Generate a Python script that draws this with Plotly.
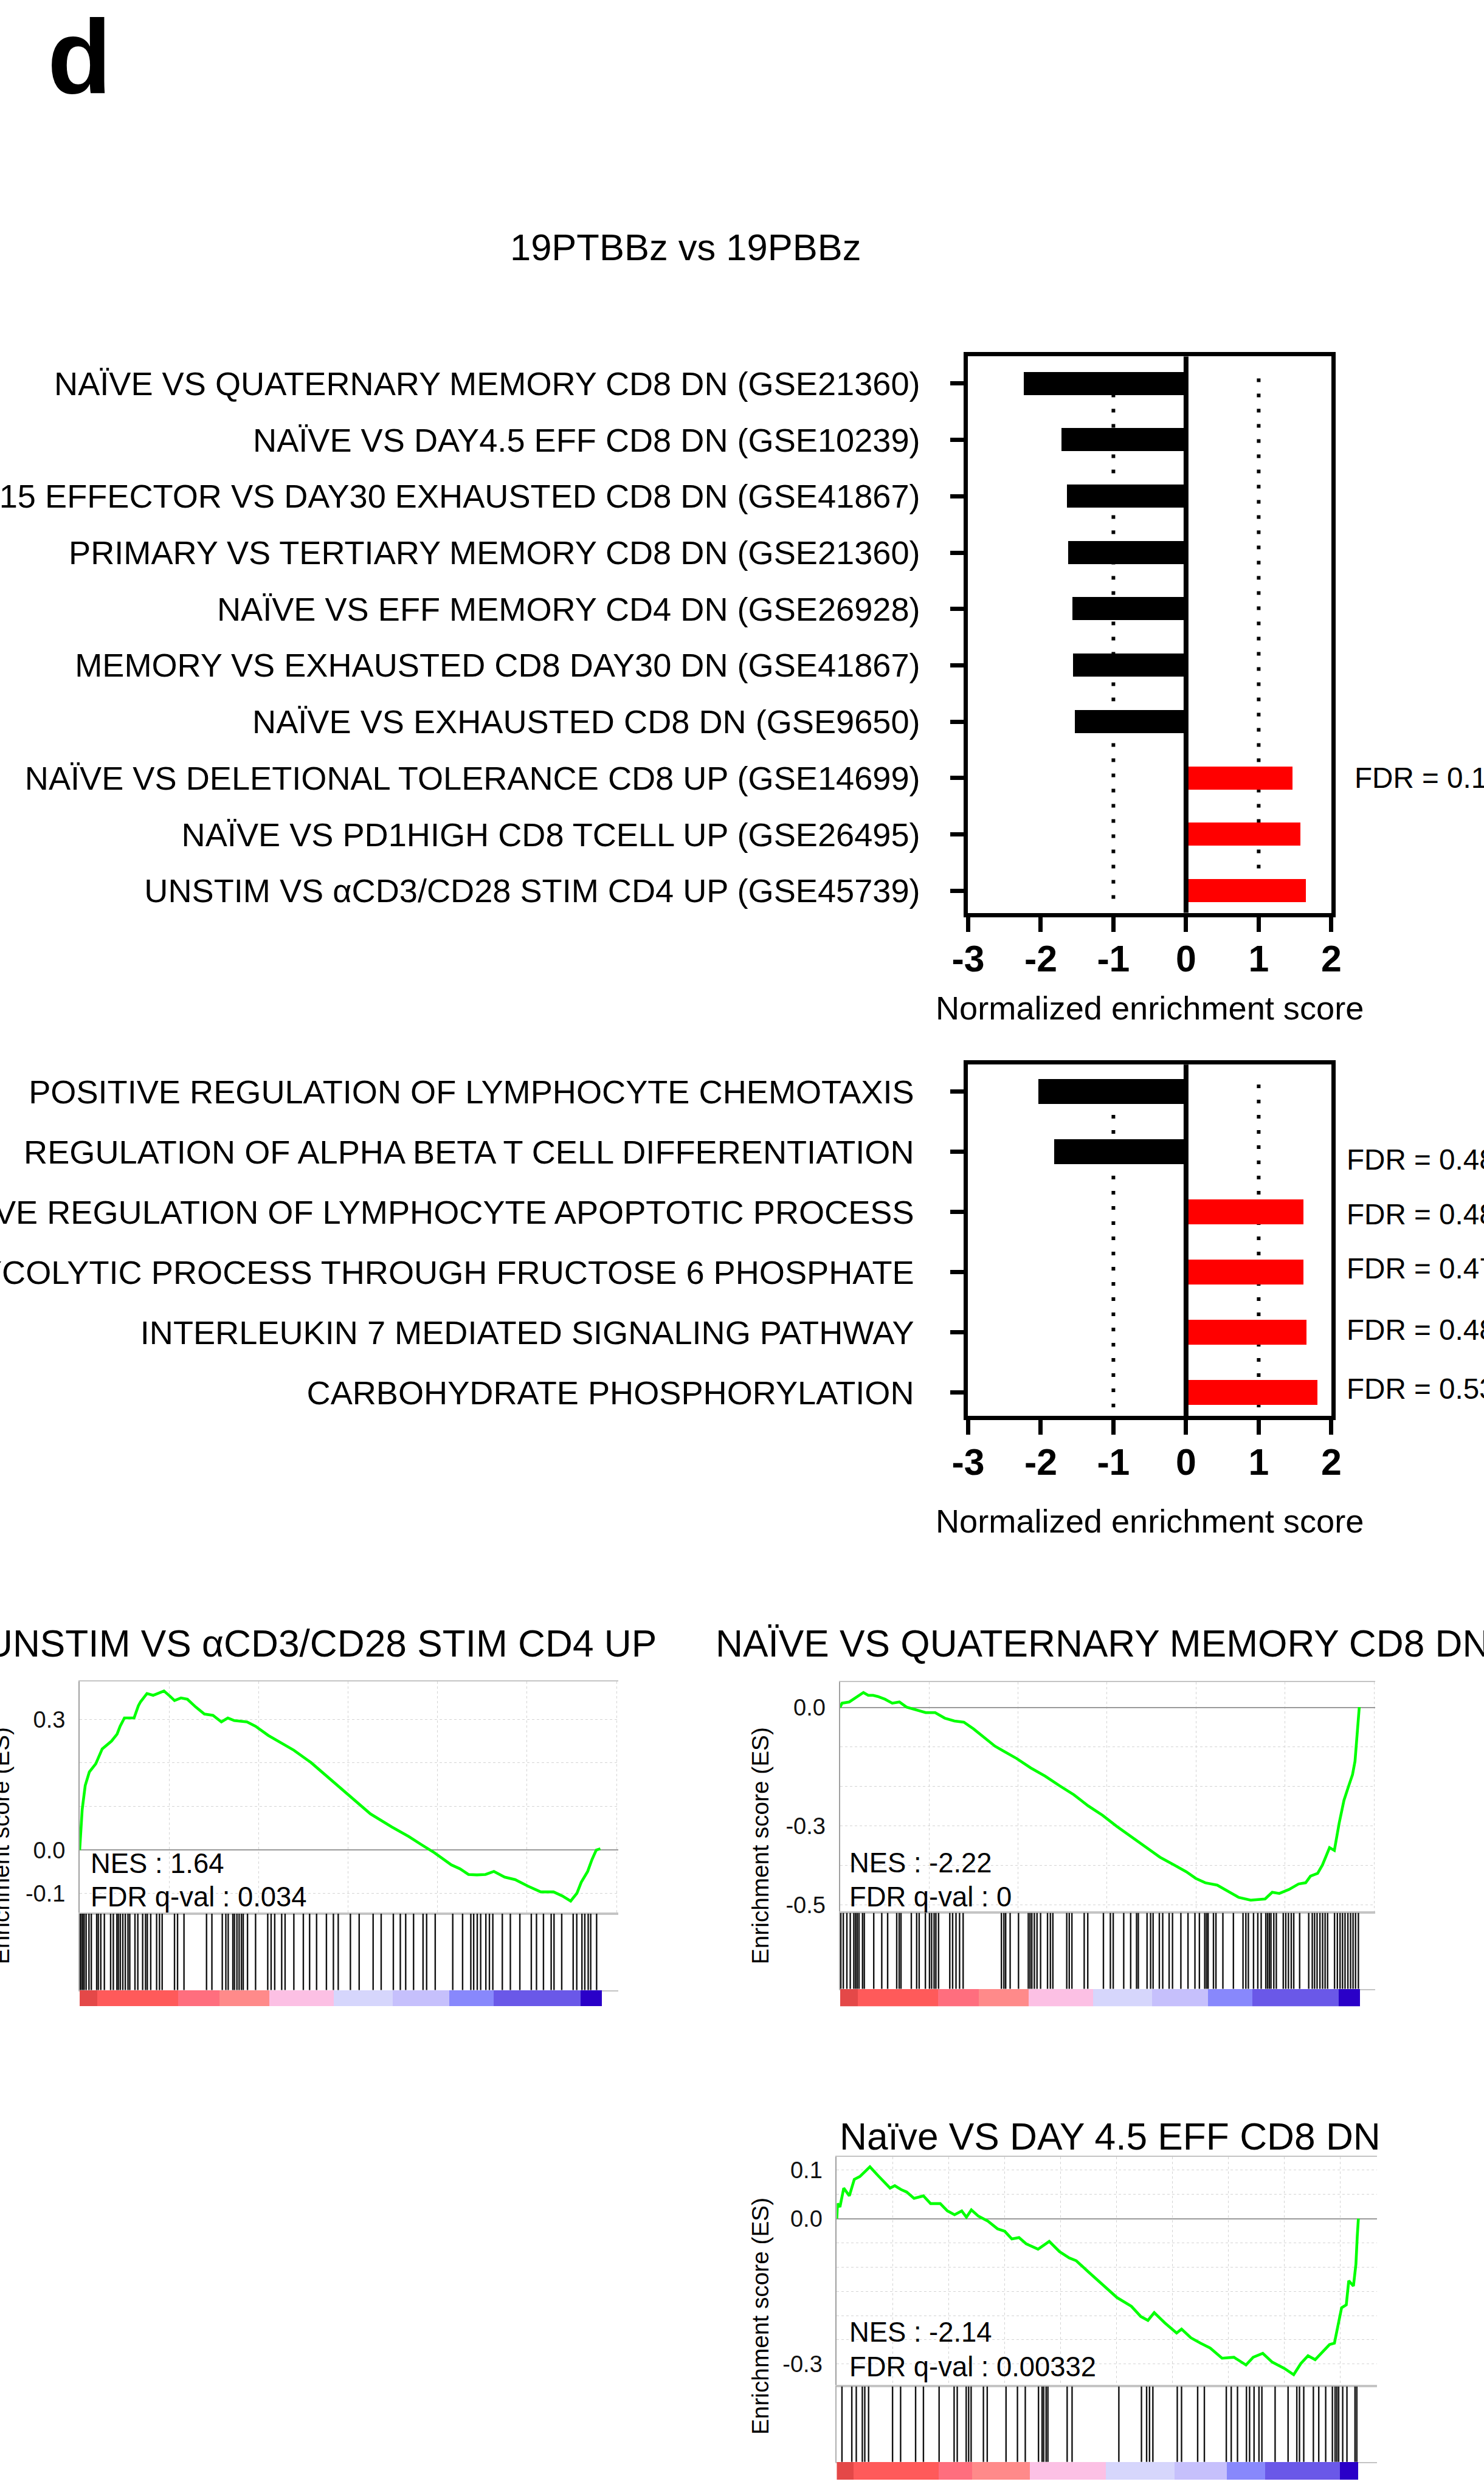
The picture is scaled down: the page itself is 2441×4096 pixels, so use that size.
import plotly.graph_objects as go

# ---------------------------------------------------------------- data
immune_sets = [
    "NAÏVE VS QUATERNARY MEMORY CD8 DN (GSE21360)",
    "NAÏVE VS DAY4.5 EFF CD8 DN (GSE10239)",
    "DAY15 EFFECTOR VS DAY30 EXHAUSTED CD8 DN (GSE41867)",
    "PRIMARY VS TERTIARY MEMORY CD8 DN (GSE21360)",
    "NAÏVE VS EFF MEMORY CD4 DN (GSE26928)",
    "MEMORY VS EXHAUSTED CD8 DAY30 DN (GSE41867)",
    "NAÏVE VS EXHAUSTED CD8 DN (GSE9650)",
    "NAÏVE VS DELETIONAL TOLERANCE CD8 UP (GSE14699)",
    "NAÏVE VS PD1HIGH CD8 TCELL UP (GSE26495)",
    "UNSTIM VS αCD3/CD28 STIM CD4 UP (GSE45739)",
]
immune_nes = [-2.23, -1.71, -1.64, -1.62, -1.56, -1.55, -1.53, 1.47, 1.58, 1.65]
immune_fdr = ["", "", "", "", "", "", "", "FDR = 0.11", "", ""]

go_sets = [
    "POSITIVE REGULATION OF LYMPHOCYTE CHEMOTAXIS",
    "REGULATION OF ALPHA BETA T CELL DIFFERENTIATION",
    "NEGATIVE REGULATION OF LYMPHOCYTE APOPTOTIC PROCESS",
    "GLYCOLYTIC PROCESS THROUGH FRUCTOSE 6 PHOSPHATE",
    "INTERLEUKIN 7 MEDIATED SIGNALING PATHWAY",
    "CARBOHYDRATE PHOSPHORYLATION",
]
go_nes = [-2.03, -1.81, 1.62, 1.62, 1.66, 1.81]
go_fdr = ["", "FDR = 0.48", "FDR = 0.48", "FDR = 0.47", "FDR = 0.48", "FDR = 0.53"]

nes_ticks = [-3, -2, -1, 0, 1, 2]
nes_ticktext = ["-3", "-2", "-1", "0", "1", "2"]

# GSEA running enrichment score (rank in thousands)
es1_rank = [0, 0.14, 0.31, 0.54, 0.90, 1.26, 1.78, 2.09, 2.26, 2.50, 3.04, 3.28, 3.40, 3.76, 4.11,
            4.71, 5.07, 5.30, 5.66, 6.02, 6.49, 6.97, 7.45, 7.92, 8.28, 8.64, 9.35, 9.83, 10.54, 11.25,
            11.97, 12.92, 13.87, 15.06, 16.25, 17.44, 18.39, 19.11, 19.82, 20.77, 21.25, 21.73, 22.20,
            22.68, 23.15, 23.75, 24.34, 25.06, 25.77, 26.48, 26.96, 27.44, 27.79, 28.03, 28.39, 28.63,
            28.87, 29.10]
es1_score = [0.0, 0.093, 0.148, 0.179, 0.198, 0.232, 0.250, 0.266, 0.284, 0.303, 0.303, 0.331, 0.340,
             0.359, 0.355, 0.365, 0.352, 0.343, 0.349, 0.346, 0.328, 0.312, 0.309, 0.294, 0.303, 0.297,
             0.294, 0.284, 0.263, 0.247, 0.229, 0.201, 0.167, 0.124, 0.083, 0.053, 0.031, 0.012, -0.006,
             -0.034, -0.043, -0.056, -0.057, -0.056, -0.049, -0.062, -0.068, -0.083, -0.096, -0.096,
             -0.105, -0.117, -0.099, -0.074, -0.049, -0.022, 0.0, 0.003]
hits1 = [0.01, 0.08, 0.17, 0.25, 0.36, 0.52, 0.65, 0.95, 1.04, 1.18, 1.38, 1.73, 1.88, 2.08, 2.16, 2.27,
         2.41, 2.55, 2.70, 2.80, 3.09, 3.25, 3.52, 3.68, 3.78, 3.97, 4.30, 4.46, 4.61, 5.30, 5.47, 5.83,
         7.09, 7.39, 7.97, 8.17, 8.30, 8.56, 8.65, 8.79, 8.91, 9.04, 9.14, 9.38, 9.83, 10.51, 10.70,
         10.90, 11.29, 11.48, 11.97, 12.50, 12.85, 13.24, 13.79, 14.18, 14.45, 15.13, 15.62, 16.40,
         16.85, 17.53, 17.92, 18.22, 18.66, 19.19, 19.39, 19.87, 20.85, 21.40, 21.86, 22.02, 22.22,
         22.41, 22.70, 22.90, 23.09, 23.62, 24.07, 24.60, 25.24, 25.53, 25.92, 26.35, 26.51, 26.94,
         27.58, 27.78, 28.07, 28.23, 28.42, 28.56, 28.89]

es2_rank = [0, 0.12, 0.52, 0.92, 1.32, 1.59, 1.86, 2.13, 2.53, 2.94, 3.34, 3.74, 4.28, 4.82, 5.35,
            5.89, 6.43, 6.96, 7.50, 8.04, 8.71, 9.25, 9.92, 10.72, 11.53, 12.33, 13.14, 13.94, 14.75,
            15.55, 16.36, 17.17, 17.97, 18.78, 19.45, 19.99, 20.52, 21.19, 21.73, 22.40, 23.07, 23.88,
            24.28, 24.68, 25.22, 25.76, 26.16, 26.43, 26.83, 27.10, 27.50, 27.77, 28.04, 28.31, 28.58,
            28.79, 28.93, 29.03, 29.11, 29.17]
es2_score = [0.0, 0.011, 0.014, 0.025, 0.038, 0.031, 0.031, 0.028, 0.021, 0.011, 0.014, 0.001, -0.006,
             -0.013, -0.013, -0.027, -0.034, -0.037, -0.054, -0.074, -0.098, -0.112, -0.129, -0.153,
             -0.174, -0.198, -0.221, -0.249, -0.273, -0.301, -0.327, -0.355, -0.379, -0.399, -0.416,
             -0.433, -0.444, -0.450, -0.464, -0.481, -0.488, -0.485, -0.468, -0.471, -0.461, -0.447,
             -0.444, -0.427, -0.420, -0.399, -0.355, -0.362, -0.293, -0.235, -0.198, -0.170, -0.136,
             -0.081, -0.027, 0.001]
hits2 = [0.05, 0.19, 0.39, 0.58, 0.78, 0.88, 0.97, 1.07, 1.27, 1.37, 1.90, 2.35, 2.68, 3.19, 3.33,
         3.43, 4.01, 4.31, 4.45, 4.80, 5.03, 5.15, 5.29, 5.39, 5.54, 6.17, 6.33, 6.52, 6.72, 6.92, 9.07,
         9.21, 9.31, 9.56, 10.03, 10.58, 10.68, 10.78, 10.92, 11.07, 11.27, 11.66, 11.82, 11.96, 12.74,
         12.88, 13.03, 13.72, 13.92, 14.80, 15.19, 15.35, 15.94, 16.33, 16.66, 16.76, 17.25, 17.45,
         17.59, 17.94, 18.13, 18.49, 18.68, 19.15, 19.55, 19.94, 20.19, 20.49, 20.59, 20.68, 20.98,
         21.12, 21.51, 22.10, 22.64, 22.80, 22.94, 23.23, 23.47, 23.66, 23.92, 24.02, 24.12, 24.21,
         24.37, 24.51, 24.90, 25.04, 25.19, 25.35, 25.49, 25.82, 26.33, 26.53, 26.66, 26.80, 26.96,
         27.11, 27.25, 27.39, 27.78, 27.94, 28.09, 28.23, 28.37, 28.53, 28.68, 28.82, 28.96, 29.12]

es3_rank = [0, 0.03, 0.14, 0.31, 0.56, 0.78, 1.03, 1.20, 1.48, 1.84, 2.38, 2.59, 2.87, 3.12, 3.45,
            3.87, 4.19, 4.62, 4.94, 5.26, 5.58, 5.79, 6.01, 6.33, 6.75, 7.18, 7.50, 7.82, 8.14, 8.46,
            8.99, 9.49, 9.95, 10.38, 10.70, 11.24, 11.88, 12.52, 13.16, 13.58, 13.90, 14.18, 14.65,
            15.18, 15.40, 15.82, 16.25, 16.68, 17.21, 17.74, 18.28, 18.60, 19.03, 19.45, 19.99, 20.41,
            20.73, 21.05, 21.37, 21.69, 22.01, 22.23, 22.38, 22.55, 22.76, 22.87, 23.08, 23.19, 23.25,
            23.30]
es3_score = [0.0, 0.031, 0.024, 0.063, 0.047, 0.081, 0.087, 0.094, 0.107, 0.089, 0.063, 0.068, 0.060,
             0.055, 0.042, 0.047, 0.031, 0.031, 0.016, 0.008, 0.016, 0.003, 0.018, 0.005, -0.005,
             -0.021, -0.026, -0.042, -0.039, -0.052, -0.063, -0.047, -0.068, -0.081, -0.087, -0.110,
             -0.136, -0.163, -0.181, -0.202, -0.210, -0.194, -0.215, -0.236, -0.228, -0.246, -0.257,
             -0.267, -0.288, -0.286, -0.302, -0.286, -0.278, -0.296, -0.309, -0.322, -0.299, -0.283,
             -0.291, -0.275, -0.260, -0.257, -0.220, -0.184, -0.178, -0.128, -0.139, -0.094, -0.037, 0.0]
hits3 = [0.23, 0.67, 0.87, 1.14, 1.25, 1.42, 2.49, 2.85, 3.52, 3.87, 4.57, 5.24, 5.38, 5.78, 5.89,
         6.00, 6.55, 6.72, 7.56, 8.07, 8.42, 9.01, 9.17, 9.24, 9.35, 9.43, 10.29, 10.51, 12.60, 13.61,
         13.84, 13.97, 14.12, 15.21, 15.40, 16.12, 16.42, 17.40, 17.62, 17.90, 18.30, 18.44, 18.64,
         18.86, 18.99, 19.58, 20.16, 20.55, 20.67, 20.86, 21.29, 21.53, 21.84, 22.14, 22.26, 22.34,
         22.42, 22.60, 22.79, 23.15, 23.23]

# ranked-list metric colour blocks (bounds in thousands of ranks)
rank_colors = ["#e44848", "#ff5a5a", "#ff6e7e", "#ff8a8a", "#fcc0e4",
               "#d6d6fc", "#c6c0fc", "#8888fc", "#6a58e8", "#2a00c8"]
rank_bounds_12 = [0, 1.0, 5.5, 7.8, 10.6, 14.2, 17.5, 20.65, 23.15, 28.0, 29.2]
rank_bounds_3 = [0, 0.75, 4.57, 6.05, 8.65, 12.02, 15.09, 17.43, 19.14, 22.49, 23.30]

gsea_titles = ["UNSTIM VS αCD3/CD28 STIM CD4 UP", "NAÏVE VS QUATERNARY MEMORY CD8 DN",
               "Naïve VS DAY 4.5 EFF CD8 DN"]
gsea_nes = ["NES : 1.64", "NES : -2.22", "NES : -2.14"]
gsea_fdr = ["FDR q-val : 0.034", "FDR q-val : 0", "FDR q-val : 0.00332"]

# ---------------------------------------------------------------- geometry helpers
S = 0.732
RW, RH = 3334.0, 5595.0
FONT = "Liberation Sans, Arial, Helvetica, sans-serif"


def px(x):
    return x / RW


def py(y):
    return 1 - y / RH


def f(size_ref):
    return size_ref * S


fig = go.Figure()
annotations = []
shapes = []

# ---------------------------------------------------------------- bar charts
bar_specs = [
    dict(xa="x", ya="y", labels=immune_sets, vals=immune_nes, top=801, bot=2051,
         rng=[9.39, -0.48], standoff=39),
    dict(xa="x2", ya="y2", labels=go_sets, vals=go_nes, top=2392, bot=3182,
         rng=[5.39, -0.45], standoff=49),
]
for i, b in enumerate(bar_specs):
    n = len(b["labels"])
    fig.add_trace(go.Bar(
        x=b["vals"], y=list(range(n)), orientation="h", width=0.41,
        marker=dict(color=["#000000" if v < 0 else "#ff0000" for v in b["vals"]], line=dict(width=0)),
        xaxis=b["xa"], yaxis=b["ya"], showlegend=False, hoverinfo="skip"))
    xk = "xaxis" if i == 0 else "xaxis2"
    yk = "yaxis" if i == 0 else "yaxis2"
    fig.update_layout(**{
        xk: dict(domain=[px(2175), px(2991)], range=[-3, 2], anchor=b["ya"], automargin=False,
                 tickmode="array", tickvals=nes_ticks, ticktext=nes_ticktext,
                 ticks="outside", ticklen=24, tickwidth=7, tickcolor="black",
                 showline=True, mirror=True, linewidth=7, linecolor="black",
                 showgrid=False, zeroline=False, ticklabelstandoff=-7,
                 tickfont=dict(family=FONT, size=f(83), color="black", weight="bold")),
        yk: dict(domain=[py(b["bot"]), py(b["top"])], range=b["rng"], anchor=b["xa"], automargin=False,
                 tickmode="array", tickvals=list(range(n)), ticktext=b["labels"],
                 ticks="outside", ticklen=22, tickwidth=7, tickcolor="black",
                 showline=True, mirror=True, linewidth=7, linecolor="black",
                 showgrid=False, zeroline=False, ticklabelstandoff=b["standoff"],
                 tickfont=dict(family=FONT, size=f(74), color="black")),
    })
    # dotted reference lines at -1 and +1
    for xv in (-1, 1):
        shapes.append(dict(type="line", xref=b["xa"], yref=b["ya"] + " domain", x0=xv, x1=xv,
                           y0=0.025, y1=0.975, layer="below",
                           line=dict(color="black", width=6, dash="6px,19px")))
    # solid zero line
    shapes.append(dict(type="line", xref=b["xa"], yref=b["ya"] + " domain", x0=0, x1=0,
                       y0=0, y1=1, layer="above", line=dict(color="black", width=8)))

# axis titles of bar charts
for yc in (2265, 3417):
    annotations.append(dict(text="Normalized enrichment score", x=px(2583), y=py(yc),
                            xref="paper", yref="paper", xanchor="center", yanchor="middle",
                            showarrow=False, font=dict(family=FONT, size=f(74), color="black")))

# FDR labels
for k, t in enumerate(immune_fdr):
    if t:
        annotations.append(dict(text=t, x=px(3041), y=k, xref="paper", yref="y",
                                xanchor="left", yanchor="middle", showarrow=False,
                                font=dict(family=FONT, size=f(65), color="black")))
go_fdr_shift = [0, 0.13, 0.04, -0.06, -0.04, -0.06]
for k, t in enumerate(go_fdr):
    if t:
        annotations.append(dict(text=t, x=px(3022), y=k + go_fdr_shift[k], xref="paper", yref="y2",
                                xanchor="left", yanchor="middle", showarrow=False,
                                font=dict(family=FONT, size=f(65), color="black")))

# panel letter and title
annotations.append(dict(text="<b>d</b>", x=px(104), y=py(128), xref="paper", yref="paper",
                        xanchor="left", yanchor="middle", showarrow=False,
                        font=dict(family=FONT, size=f(236), color="black")))
annotations.append(dict(text="19PTBBz vs 19PBBz", x=px(1540), y=py(555), xref="paper", yref="paper",
                        xanchor="center", yanchor="middle", showarrow=False,
                        font=dict(family=FONT, size=f(84), color="black")))

# ---------------------------------------------------------------- GSEA panels
gsea_specs = [
    dict(rank=es1_rank, score=es1_score, hits=hits1, bounds=rank_bounds_12,
         xl=179, xr=1389, xmax=30.1, top=3778, esb=4300, hb=4472, cbb=4508,
         yrng=[-0.146, 0.387], ygrid=[0.3, 0.2, 0.1, 0.0, -0.1],
         ylab={0.3: "0.3", 0.0: "0.0", -0.1: "-0.1"}, xdt=5,
         ax=["x3", "y3", "x6", "y4", "x7", "y5"],
         title_x=1478, title_anchor="right", title_y=3693, ytitle_x=3, ytitle_y=4147,
         text_x=201, nes_y=4187, fdr_y=4263),
    dict(rank=es2_rank, score=es2_score, hits=hits2, bounds=rank_bounds_12,
         xl=1887, xr=3089, xmax=30.05, top=3780, esb=4298, hb=4469, cbb=4508,
         yrng=[-0.52, 0.064], ygrid=[0.0, -0.1, -0.2, -0.3, -0.4, -0.5],
         ylab={0.0: "0.0", -0.3: "-0.3", -0.5: "-0.5"}, xdt=5,
         ax=["x4", "y6", "x8", "y7", "x9", "y8"],
         title_x=1605, title_anchor="left", title_y=3693, ytitle_x=1709, ytitle_y=4147,
         text_x=1905, nes_y=4186, fdr_y=4262),
    dict(rank=es3_rank, score=es3_score, hits=hits3, bounds=rank_bounds_3,
         xl=1880, xr=3094, xmax=24.14, top=4847, esb=5362, hb=5532, cbb=5572,
         yrng=[-0.346, 0.127],
         ygrid=[0.1, 0.05, 0.0, -0.05, -0.1, -0.15, -0.2, -0.25, -0.3],
         ylab={0.1: "0.1", 0.0: "0.0", -0.3: "-0.3"}, xdt=2.5,
         ax=["x5", "y9", "x10", "y10", "x11", "y11"],
         title_x=1884, title_anchor="left", title_y=4801, ytitle_x=1709, ytitle_y=5204,
         text_x=1905, nes_y=5241, fdr_y=5318),
]


def axkey(a):
    return ("xaxis" if a[0] == "x" else "yaxis") + a[1:]


for g_i, g in enumerate(gsea_specs):
    xa, ya, xh, yh, xc, yc = g["ax"]
    dom_x = [px(g["xl"]), px(g["xr"])]
    # ES curve
    fig.add_trace(go.Scatter(x=g["rank"], y=g["score"], mode="lines",
                             line=dict(color="#00ff00", width=4.6), xaxis=xa, yaxis=ya,
                             showlegend=False, hoverinfo="skip"))
    # hits
    hx, hy = [], []
    for h in g["hits"]:
        hx += [h, h, None]
        hy += [0, 1, None]
    fig.add_trace(go.Scatter(x=hx, y=hy, mode="lines", line=dict(color="#111111", width=2.4),
                             xaxis=xh, yaxis=yh, showlegend=False, hoverinfo="skip"))
    # ranked list colour bar
    bnd = g["bounds"]
    mids = [(bnd[k] + bnd[k + 1]) / 2 for k in range(len(bnd) - 1)]
    wids = [bnd[k + 1] - bnd[k] for k in range(len(bnd) - 1)]
    fig.add_trace(go.Bar(x=mids, y=[1] * len(mids), width=wids,
                         marker=dict(color=rank_colors, line=dict(width=0)),
                         xaxis=xc, yaxis=yc, showlegend=False, hoverinfo="skip"))

    ticktext = [g["ylab"].get(v, "") for v in g["ygrid"]]
    fig.update_layout(**{
        axkey(xa): dict(domain=dom_x, range=[0, g["xmax"]], anchor=ya, showticklabels=False,
                        automargin=False,
                        ticks="", showgrid=True, gridcolor="#d4d4d4", gridwidth=1.3, griddash="4px,4px",
                        dtick=g["xdt"], tick0=0, zeroline=False,
                        showline=True, mirror=True, linecolor="#c4c4c4", linewidth=2.4),
        axkey(ya): dict(domain=[py(g["esb"]), py(g["top"])], range=g["yrng"], anchor=xa,
                        automargin=False,
                        tickmode="array", tickvals=g["ygrid"], ticktext=ticktext, ticks="",
                        showgrid=True, gridcolor="#d4d4d4", gridwidth=1.3, griddash="4px,4px",
                        zeroline=True, zerolinecolor="#9a9a9a", zerolinewidth=2.4,
                        showline=True, linecolor="#a0a0a0", linewidth=2,
                        ticklabelstandoff=14,
                        tickfont=dict(family=FONT, size=f(52), color="#111111")),
        axkey(xh): dict(domain=dom_x, range=[0, g["xmax"]], anchor=yh, showticklabels=False,
                        automargin=False,
                        ticks="", showgrid=False, zeroline=False,
                        showline=True, mirror=True, linecolor="#c4c4c4", linewidth=2.4),
        axkey(yh): dict(domain=[py(g["hb"]), py(g["esb"])], range=[0, 1], anchor=xh,
                        automargin=False,
                        showticklabels=False, ticks="", showgrid=False, zeroline=False,
                        showline=True, linecolor="#b0b0b0", linewidth=1.5),
        axkey(xc): dict(domain=dom_x, range=[0, g["xmax"]], anchor=yc, showticklabels=False,
                        automargin=False,
                        ticks="", showgrid=False, zeroline=False, showline=False),
        axkey(yc): dict(domain=[py(g["cbb"]), py(g["hb"])], range=[0, 1], anchor=xc,
                        automargin=False,
                        showticklabels=False, ticks="", showgrid=False, zeroline=False,
                        showline=False),
    })

    annotations.append(dict(text=gsea_titles[g_i], x=px(g["title_x"]), y=py(g["title_y"]),
                            xref="paper", yref="paper", xanchor=g["title_anchor"], yanchor="middle",
                            showarrow=False, font=dict(family=FONT, size=f(85), color="black")))
    annotations.append(dict(text="Enrichment score (ES)", x=px(g["ytitle_x"]), y=py(g["ytitle_y"]),
                            xref="paper", yref="paper", xanchor="center", yanchor="middle",
                            textangle=-90, showarrow=False,
                            font=dict(family=FONT, size=f(53), color="black")))
    annotations.append(dict(text=gsea_nes[g_i], x=px(g["text_x"]), y=py(g["nes_y"]),
                            xref="paper", yref="paper", xanchor="left", yanchor="middle",
                            showarrow=False, font=dict(family=FONT, size=f(62), color="black")))
    annotations.append(dict(text=gsea_fdr[g_i], x=px(g["text_x"]), y=py(g["fdr_y"]),
                            xref="paper", yref="paper", xanchor="left", yanchor="middle",
                            showarrow=False, font=dict(family=FONT, size=f(62), color="black")))

fig.update_layout(
    width=2441, height=4096, autosize=False,
    margin=dict(l=0, r=0, t=0, b=0, pad=0, autoexpand=False),
    paper_bgcolor="white", plot_bgcolor="white",
    bargap=0, showlegend=False,
    annotations=annotations, shapes=shapes,
    font=dict(family=FONT, color="black"),
)

fig.write_html("out.html", post_script="document.body.style.margin='0';")
